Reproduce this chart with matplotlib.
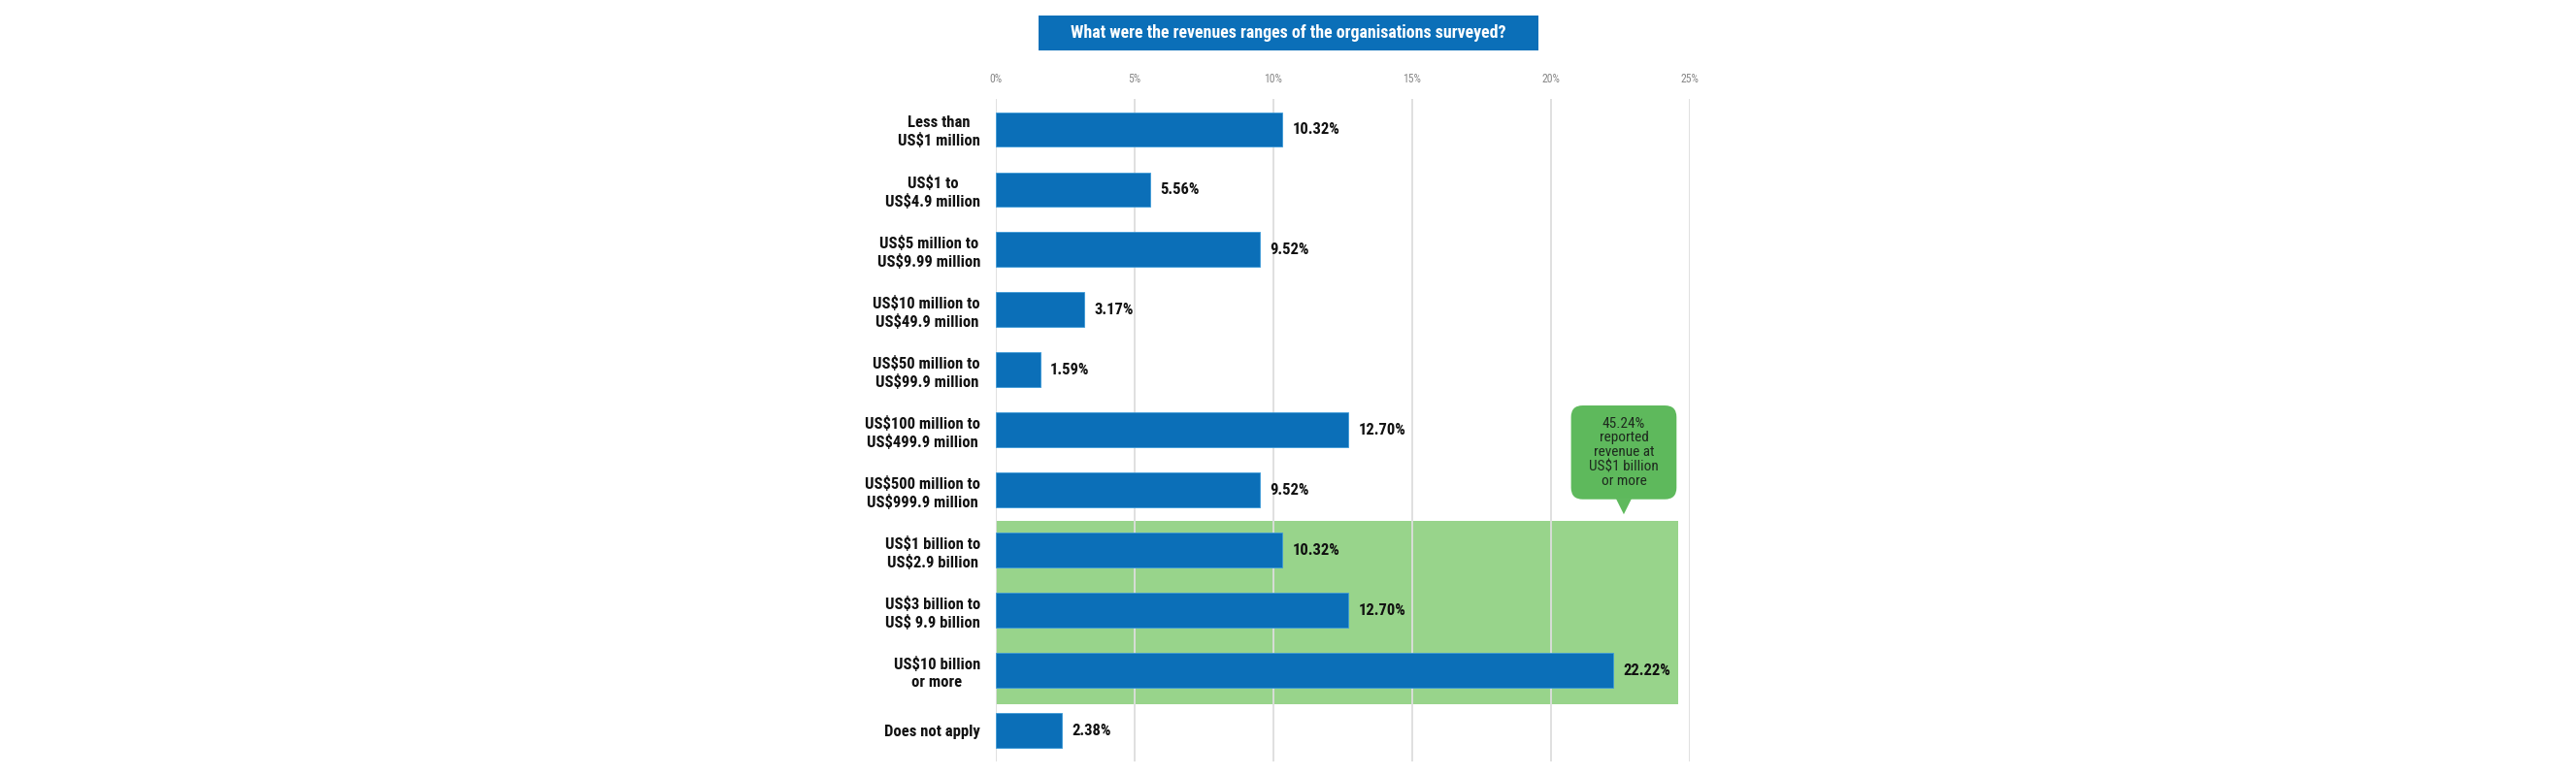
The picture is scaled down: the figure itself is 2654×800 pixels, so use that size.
import matplotlib.pyplot as plt
from matplotlib.patches import FancyBboxPatch, Polygon, Rectangle

# Data
categories = [
    'Less than\nUS$1 million', 'US$1 to\nUS$4.9 million',
    'US$5 million to\nUS$9.99 million', 'US$10 million to\nUS$49.9 million',
    'US$50 million to\nUS$99.9 million', 'US$100 million to\nUS$499.9 million',
    'US$500 million to\nUS$999.9 million', 'US$1 billion to\nUS$2.9 billion',
    'US$3 billion to\nUS$ 9.9 billion', 'US$10 billion\nor more',
    'Does not apply']
values = [10.32, 5.56, 9.52, 3.17, 1.59, 12.70, 9.52, 10.32, 12.70, 22.22, 2.38]
billion_rows = [7, 8, 9]
xticks = [0, 5, 10, 15, 20, 25]
title = 'What were the revenues ranges of the organisations surveyed?'

BLUE = '#0B6FB8'
BAND = '#98D48B'
CALLOUT = '#5EB95C'
GRID = '#DDDDDD'
FONT = ['Roboto Condensed', 'DejaVu Sans']


def esc(s):
    return s.replace('$', r'\$')


def main():
    plt.rcParams['font.family'] = FONT

    fig = plt.figure(figsize=(26.54, 8), dpi=100)
    ax = fig.add_axes([0.3866, 0.01875, 0.2694, 0.85375])

    ypos = list(range(len(categories)))

    # Highlight band for the >= US$1 billion rows
    band_top = min(billion_rows) - 0.49
    band_bot = max(billion_rows) + 0.555
    ax.add_patch(Rectangle((0, band_top), 24.58, band_bot - band_top,
                           facecolor=BAND, edgecolor='none', zorder=0))

    for x in xticks:
        ax.axvline(x, color=GRID, lw=1.3, zorder=1)

    ax.barh(ypos, values, height=0.58, color=BLUE, edgecolor='#3E9BD8',
            linewidth=0.6, zorder=2)

    for y, v in zip(ypos, values):
        ax.annotate('{:.2f}%'.format(v), (v, y), xytext=(7.5, 0),
                    textcoords='offset points', va='center', ha='left',
                    fontsize=12, fontweight='bold', color='#111111')

    ax.set_xlim(0, 25)
    ax.set_ylim(10.51, -0.508)
    ax.xaxis.tick_top()
    ax.set_xticks(xticks)
    ax.set_xticklabels(['{}%'.format(x) for x in xticks], color='#888888',
                       fontsize=8.5)
    ax.tick_params(axis='x', length=0, pad=10)
    ax.set_yticks(ypos)
    ax.set_yticklabels([esc(c) for c in categories], fontsize=12,
                       fontweight='bold', color='#111111', linespacing=1.2)
    for lab in ax.get_yticklabels():
        lab.set_multialignment('center')
    ax.tick_params(axis='y', length=0, pad=11.5)
    for sp in ax.spines.values():
        sp.set_visible(False)

    # Callout bubble
    share = sum(values[i] for i in billion_rows)
    cx = 22.62
    x0, x1 = 20.72, 24.52
    y0, y1 = band_top - 1.92, band_top - 0.36
    ax.add_patch(FancyBboxPatch(
        (x0, y0), x1 - x0, y1 - y0,
        boxstyle='round,pad=0,rounding_size=0.42', mutation_aspect=0.46,
        facecolor=CALLOUT, edgecolor='none', zorder=3))
    ax.add_patch(Polygon([[cx - 0.28, y1 - 0.01], [cx + 0.28, y1 - 0.01],
                          [cx, band_top - 0.11]],
                         closed=True, facecolor=CALLOUT, edgecolor='none',
                         zorder=3))
    ax.text(cx, (y0 + y1) / 2,
            esc('{:.2f}%\nreported\nrevenue at\nUS$1 billion\nor more'
                .format(share)),
            ha='center', va='center', fontsize=11, color='#1E2A1E',
            linespacing=1.08, zorder=4)

    # Title box
    fig.patches.append(Rectangle((0.4032, 0.935), 0.194, 0.045,
                                 transform=fig.transFigure, facecolor=BLUE,
                                 edgecolor='none'))
    fig.text(0.5, 0.9575, title, ha='center', va='center', color='white',
             fontsize=12.9, fontweight='bold')

    fig.savefig('out.png', dpi=100)


if __name__ == '__main__':
    main()
